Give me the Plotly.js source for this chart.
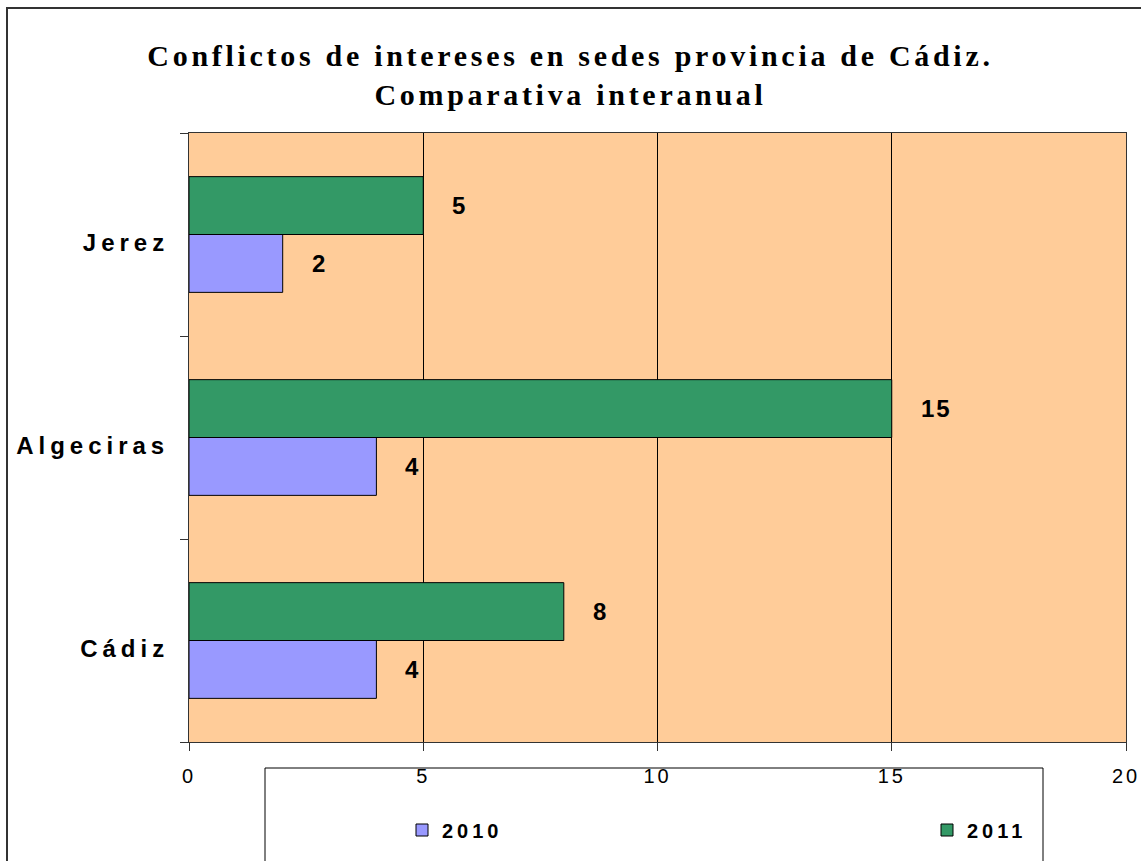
<!DOCTYPE html>
<html>
<head>
<meta charset="utf-8">
<script src="https://cdn.plot.ly/plotly-3.0.1.min.js"></script>
<style>
  html, body { margin: 0; padding: 0; background: #fff; }
  #wrap { position: relative; width: 1141px; height: 861px; overflow: hidden; }
  #chart { position: absolute; left: 0; top: 0; width: 1141px; height: 861px; }
  #frame { position: absolute; left: 6px; top: 7px; width: 1200px; height: 900px;
           border-left: 2px solid #333; border-top: 2px solid #333; pointer-events: none; }
  .gtitle { letter-spacing: 3.7px; }
  .ytick text { letter-spacing: 5px; }
  .xtick text { letter-spacing: 3px; }
  text.legendtext, g.legend text, g.legend2 text { letter-spacing: 4px !important; }
  g.legend [clip-path], g.legend2 [clip-path] { clip-path: none !important; }
  .annotation-text { letter-spacing: 2px; }
</style>
</head>
<body>
<div id="wrap">
  <div id="chart"></div>
  <div id="frame"></div>
</div>
<script>
const categories = ['Cádiz', 'Algeciras', 'Jerez'];
const values2010 = [4, 4, 2];
const values2011 = [8, 15, 5];
const seriesNames = ['2010', '2011'];
const xTicks = [0, 5, 10, 15, 20];

const traces = [
  {
    type: 'bar', orientation: 'h', name: seriesNames[0], legend: 'legend',
    y: categories, x: values2010,
    marker: { color: '#9999FF', line: { color: '#000', width: 1 } },
    hoverinfo: 'none'
  },
  {
    type: 'bar', orientation: 'h', name: seriesNames[1], legend: 'legend2',
    y: categories, x: values2011,
    marker: { color: '#339966', line: { color: '#000', width: 1 } },
    hoverinfo: 'none'
  }
];

const labelFont = { family: 'Liberation Sans, Arial, sans-serif', size: 24, color: '#000', weight: 'bold' };
const annotations = [];
categories.forEach((c, i) => {
  annotations.push({ x: values2010[i], y: c, text: String(values2010[i]), showarrow: false,
    xanchor: 'left', yanchor: 'middle', xshift: 27, yshift: -29, font: labelFont });
  annotations.push({ x: values2011[i], y: c, text: String(values2011[i]), showarrow: false,
    xanchor: 'left', yanchor: 'middle', xshift: 27, yshift: 29, font: labelFont });
});

const legendFont = { family: 'Liberation Sans, Arial, sans-serif', size: 20, color: '#000', weight: 'bold' };
const legendBase = {
  orientation: 'h', xanchor: 'left', yanchor: 'middle',
  y: (742 - 830) / 609,
  entrywidth: 90, entrywidthmode: 'pixels',
  bgcolor: 'rgba(0,0,0,0)', borderwidth: 0, font: legendFont,
  itemclick: false, itemdoubleclick: false
};

const layout = {
  width: 1141, height: 861,
  margin: { l: 189, r: 15, t: 133, b: 119 },
  paper_bgcolor: 'rgba(0,0,0,0)',
  plot_bgcolor: '#FFCC99',
  barmode: 'group',
  bargap: 0.43,
  bargroupgap: 0,
  title: {
    text: 'Conflictos de intereses en sedes provincia de Cádiz.<br>Comparativa interanual',
    font: { family: 'Liberation Serif, Times New Roman, serif', size: 30, color: '#000', weight: 'bold' },
    x: 0.5, xref: 'container', xanchor: 'center',
    y: 1 - 66 / 861, yref: 'container', yanchor: 'top'
  },
  xaxis: {
    range: [0, 20], tickvals: xTicks, ticktext: xTicks.map(String),
    showgrid: true, gridcolor: '#000', gridwidth: 1, zeroline: false,
    ticks: 'outside', ticklen: 8, tickcolor: '#333', tickwidth: 1,
    showline: true, linecolor: '#333', linewidth: 1, mirror: true,
    ticklabelstandoff: 8,
    tickfont: { family: 'Liberation Sans, Arial, sans-serif', size: 20, color: '#000' },
    fixedrange: true
  },
  yaxis: {
    range: [-0.5, 2.5], type: 'category',
    showgrid: false, zeroline: false,
    ticks: 'outside', ticklen: 8, tickcolor: '#333', tickson: 'boundaries',
    showline: true, linecolor: '#333', linewidth: 1, mirror: true,
    ticklabelstandoff: 14, ticklabelshift: 8,
    tickfont: { family: 'Liberation Sans, Arial, sans-serif', size: 24, color: '#000', weight: 'bold' },
    fixedrange: true
  },
  showlegend: true,
  legend: Object.assign({}, legendBase, { x: (402 - 189) / 937 }),
  legend2: Object.assign({}, legendBase, { x: (927 - 189) / 937 }),
  shapes: [
    { type: 'rect', xref: 'paper', yref: 'paper', layer: 'below',
      x0: (265 - 189) / 937, x1: (1043 - 189) / 937,
      y0: (742 - 768) / 609, y1: (742 - 900) / 609,
      line: { color: '#000', width: 1 }, fillcolor: '#fff' }
  ],
  annotations: annotations
};

Plotly.newPlot('chart', traces, layout, { staticPlot: true, displayModeBar: false });
</script>
</body>
</html>
